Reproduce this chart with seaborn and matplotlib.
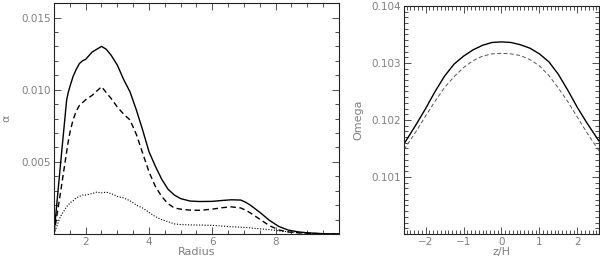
# plot.py
import seaborn as sns
import matplotlib.pyplot as plt
from matplotlib.ticker import MultipleLocator, FormatStrFormatter
import pandas as pd

sns.set_style("ticks")
plt.rcParams['font.family'] = ['DejaVu Sans']

# left panel: alpha against radius
radius = [1.0, 1.2, 1.4, 1.45, 1.5, 1.6, 1.7, 1.8, 1.9, 2.0, 2.2, 2.35, 2.5, 2.65,
          2.8, 3.0, 3.2, 3.4, 3.6, 3.8, 4.0, 4.2, 4.4, 4.6, 4.8, 5.0, 5.3, 5.6,
          6.0, 6.3, 6.6, 6.9, 7.05, 7.2, 7.5, 7.8, 8.1, 8.4, 8.7, 9.0, 9.5, 10.0]
alpha_total = [0.0, 0.0047, 0.0093, 0.0098, 0.0102, 0.0109, 0.0114, 0.0118, 0.0120,
               0.0121, 0.0126, 0.0128, 0.0130, 0.0128, 0.0124, 0.0117, 0.0107,
               0.00985, 0.0086, 0.0072, 0.0057, 0.0047, 0.0038, 0.0031, 0.0027,
               0.00245, 0.00228, 0.00225, 0.00226, 0.00232, 0.00237, 0.00235,
               0.0022, 0.0020, 0.0015, 0.00095, 0.00052, 0.00027, 0.00015,
               0.00008, 0.00002, 0.0]
alpha_dashed = [0.0, 0.0028, 0.0057, 0.0064, 0.0070, 0.0079, 0.0085, 0.0089, 0.0091,
                0.0093, 0.0096, 0.0099, 0.0102, 0.0098, 0.0094, 0.0088, 0.0083,
                0.0079, 0.0069, 0.0056, 0.0043, 0.0033, 0.0026, 0.0021, 0.0018,
                0.00172, 0.00165, 0.00164, 0.00172, 0.00182, 0.00188, 0.00180,
                0.00165, 0.00146, 0.00102, 0.00058, 0.00028, 0.00014, 0.00008,
                0.00005, 0.00001, 0.0]
alpha_dotted = [0.0, 0.0012, 0.0019, 0.0020, 0.00215, 0.0023, 0.0025, 0.0026, 0.0027,
                0.0027, 0.0028, 0.0029, 0.00285, 0.0029, 0.0028, 0.0026, 0.0025,
                0.0023, 0.0020, 0.0018, 0.0015, 0.0012, 0.0010, 0.00085, 0.0007,
                0.00065, 0.00063, 0.00062, 0.0006, 0.00055, 0.0005, 0.00047,
                0.00045, 0.00042, 0.00036, 0.0003, 0.00022, 0.00015, 0.0001,
                0.00006, 0.00002, 0.0]

# right panel: Omega against z/H
zh = [-2.57, -2.25, -2.0, -1.75, -1.5, -1.25, -1.0, -0.75, -0.5, -0.25, 0.0,
      0.25, 0.5, 0.75, 1.0, 1.25, 1.5, 1.75, 2.0, 2.25, 2.57]
omega_solid = [0.10158, 0.10192, 0.10220, 0.10250, 0.10277, 0.10298, 0.10312,
               0.10323, 0.10331, 0.10336, 0.10337, 0.10336, 0.10332, 0.10326,
               0.10316, 0.10302, 0.10280, 0.10252, 0.10222, 0.10195, 0.10163]
omega_dashed = [0.10148, 0.10180, 0.10207, 0.10233, 0.10257, 0.10276, 0.10292,
                0.10304, 0.10312, 0.10316, 0.10317, 0.10316, 0.10313, 0.10306,
                0.10295, 0.10278, 0.10256, 0.10232, 0.10205, 0.10178, 0.10146]

left = pd.DataFrame({'r': radius, 'tot': alpha_total, 'dash': alpha_dashed, 'dot': alpha_dotted})
right = pd.DataFrame({'z': zh, 'solid': omega_solid, 'dash': omega_dashed})

txt = '#808080'
fig = plt.figure(figsize=(6, 2.56), dpi=100)
ax1 = fig.add_axes([0.09, 0.086, 0.475, 0.902])
ax2 = fig.add_axes([0.6733, 0.086, 0.325, 0.8906])

sns.lineplot(data=left, x='r', y='tot', ax=ax1, color='black', lw=1.0)
sns.lineplot(data=left, x='r', y='dash', ax=ax1, color='black', lw=1.0, dashes=(4, 2.5))
sns.lineplot(data=left, x='r', y='dot', ax=ax1, color='black', lw=0.8, dashes=(1, 1.5))
ax1.set_xlim(1, 10)
ax1.set_ylim(0, 0.016)
ax1.xaxis.set_minor_locator(MultipleLocator(0.5))
ax1.yaxis.set_minor_locator(MultipleLocator(0.001))
ax1.set_yticks([0.005, 0.010, 0.015])
ax1.set_xticks([2, 4, 6, 8])
ax1.yaxis.set_major_formatter(FormatStrFormatter('%.3f'))
ax1.set_xlabel('Radius', color=txt, fontsize=8, labelpad=0)
ax1.set_ylabel('α', color=txt, fontsize=8, labelpad=7)

sns.lineplot(data=right, x='z', y='solid', ax=ax2, color='black', lw=1.0)
sns.lineplot(data=right, x='z', y='dash', ax=ax2, color='#555555', lw=0.7, dashes=(4, 2.5))
ax2.set_xlim(-2.57, 2.57)
ax2.set_ylim(0.100, 0.104)
ax2.xaxis.set_major_locator(MultipleLocator(1))
ax2.xaxis.set_minor_locator(MultipleLocator(0.1))
ax2.yaxis.set_minor_locator(MultipleLocator(0.0001))
ax2.set_yticks([0.101, 0.102, 0.103, 0.104])
ax2.yaxis.set_major_formatter(FormatStrFormatter('%.3f'))
ax2.set_xlabel('z/H', color=txt, fontsize=8, labelpad=0)
ax2.set_ylabel('Omega', color=txt, fontsize=8, labelpad=6)

for ax in (ax1, ax2):
    ax.tick_params(which='both', direction='in', top=True, right=True,
                   colors='#333333', labelcolor=txt, labelsize=7.5, width=0.6)
    ax.tick_params(which='major', length=5, pad=2)
    ax.tick_params(which='minor', length=3)
    for s in ax.spines.values():
        s.set_linewidth(0.8)
        s.set_color('#222222')
        s.set_visible(True)

plt.savefig('out.png')
plt.close()
